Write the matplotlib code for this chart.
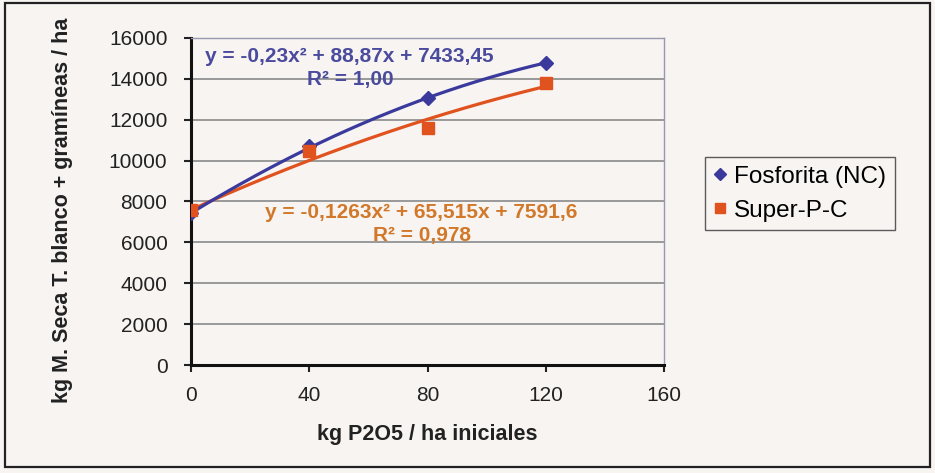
import numpy as np
import matplotlib
matplotlib.use("Agg")
import matplotlib.pyplot as plt
from matplotlib.patches import Rectangle

plt.rcParams['font.family'] = ['Liberation Sans', 'DejaVu Sans']

# Doses of P2O5 applied (kg/ha)
dose = [0, 40, 80, 120]
# Dry matter of white clover + grasses (kg/ha)
fosforita = [7450, 10730, 13070, 14780]
super_pc = [7560, 10450, 11610, 13800]

# Quadratic trend coefficients (a, b, c) for y = a x^2 + b x + c
coef_fosforita = [-0.23, 88.87, 7433.45]
coef_super = [-0.1263, 65.515, 7591.6]

eq_fosforita = "y = -0,23x² + 88,87x + 7433,45"
r2_fosforita = "R² = 1,00"
eq_super = "y = -0,1263x² + 65,515x + 7591,6"
r2_super = "R² = 0,978"

x_ticks = [0, 40, 80, 120, 160]
y_ticks = list(range(0, 16001, 2000))

blue = '#3a3a9c'
orange = '#e0521e'
blue_txt = '#4b4b9e'
orange_txt = '#d2782a'
bg = '#f7f4f2'

fig = plt.figure(figsize=(9.35, 4.73), dpi=100, facecolor=bg)
ax = fig.add_axes([0.2043, 0.2283, 0.7102 - 0.2043, 0.9197 - 0.2283])
ax.set_facecolor(bg)

# outer frame of the chart
fig.patches.append(Rectangle((5 / 935, 6 / 473), 925 / 935, 464 / 473,
                             transform=fig.transFigure, fill=False,
                             edgecolor='#222222', linewidth=1.6))

ax.set_xlim(0, 160)
ax.set_ylim(0, 16000)
ax.set_xticks(x_ticks)
ax.set_yticks(y_ticks)
ax.tick_params(axis='both', direction='out', length=5, width=1.5,
               labelsize=15, colors='#222222')
ax.tick_params(axis='y', pad=12)
ax.tick_params(axis='x', pad=10)
ax.grid(axis='y', color='#8a8a8a', linewidth=1.2)
ax.set_axisbelow(True)

for side in ('left', 'bottom'):
    ax.spines[side].set_linewidth(2.2)
    ax.spines[side].set_color('#111111')
for side in ('top', 'right'):
    ax.spines[side].set_linewidth(1.0)
    ax.spines[side].set_color('#9a98b0')
    ax.spines[side].set_linestyle((0, (2, 1)))

xs = np.linspace(0, 120, 200)
ax.plot(xs, np.polyval(coef_super, xs), color=orange, linewidth=2.3, zorder=3)
ax.plot(xs, np.polyval(coef_fosforita, xs), color=blue, linewidth=2.3, zorder=4)

ax.plot(dose, fosforita, linestyle='none', marker='D', markersize=7.5,
        color=blue, label='Fosforita (NC)', zorder=5)
ax.plot(dose, super_pc, linestyle='none', marker='s', markersize=8.5,
        color=orange, label='Super-P-C', zorder=5)

ax.text(4.7, 15073, eq_fosforita, color=blue_txt, fontsize=15, fontweight='bold',
        ha='left', va='center')
ax.text(53.8, 13950, r2_fosforita, color=blue_txt, fontsize=15, fontweight='bold',
        ha='center', va='center')
ax.text(25, 7463, eq_super, color=orange_txt, fontsize=15, fontweight='bold',
        ha='left', va='center')
ax.text(78, 6341, r2_super, color=orange_txt, fontsize=15, fontweight='bold',
        ha='center', va='center')

ax.set_xlabel("kg P2O5 / ha iniciales", fontsize=15.5, fontweight='bold',
              color='#222222', va='center')
ax.xaxis.set_label_coords(0.5, -0.214)
ax.set_ylabel("kg M. Seca T. blanco + gramíneas / ha", fontsize=15.5,
              fontweight='bold', color='#222222')
ax.yaxis.set_label_coords(-0.249, 0.474)

leg = ax.legend(loc='upper left', bbox_to_anchor=((705 - 191) / 473, (365 - 157) / 327),
                fontsize=17.5, frameon=True, fancybox=False, handlelength=0.5,
                handletextpad=0.35, borderpad=0.35, labelspacing=0.5,
                borderaxespad=0.0, markerscale=0.8)
leg.get_frame().set_edgecolor('#333333')
leg.get_frame().set_facecolor(bg)
leg.get_frame().set_linewidth(1.0)

fig.savefig('out.png', dpi=100, facecolor=bg)
